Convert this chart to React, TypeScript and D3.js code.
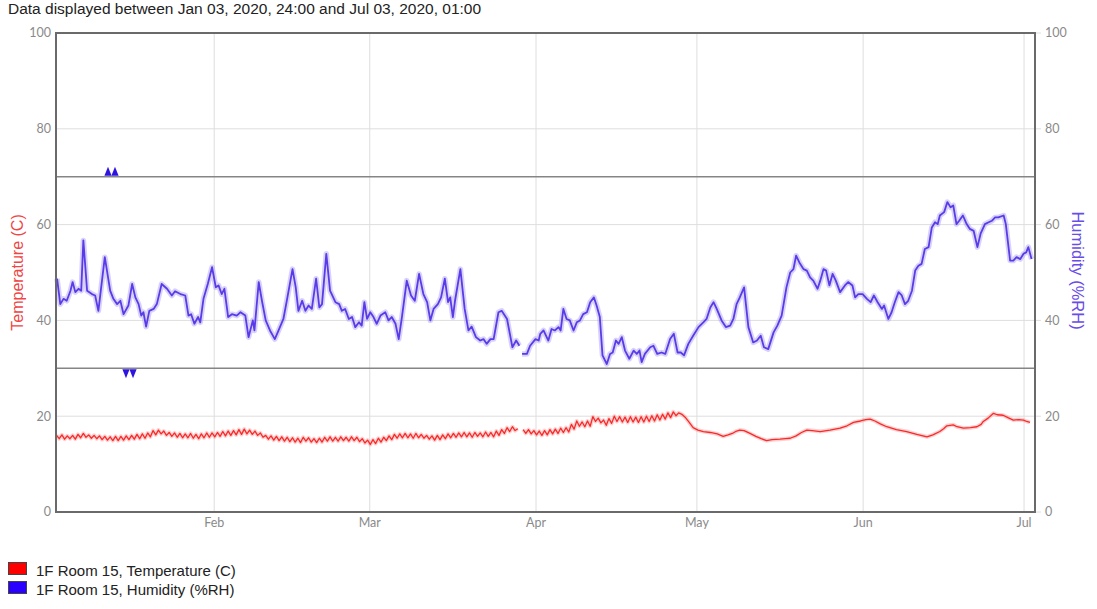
import React from 'react';
import * as d3 from 'd3';

const W = 1097;
const H = 609;
const M = { left: 56, right: 1035, top: 33, bottom: 512 };
const DAY = 864e5;
const BASE = Date.UTC(2020, 0, 1);
const toDate = (d: number) => new Date(BASE + d * DAY);

const titleText = 'Data displayed between Jan 03, 2020, 24:00 and Jul 03, 2020, 01:00';
const legendItems = ['1F Room 15, Temperature (C)', '1F Room 15, Humidity (%RH)'];
const yTicks = [0, 20, 40, 60, 80, 100];
const limitLines = [70, 30];
const alarmHighDays = [11.2, 12.5];
const alarmLowDays = [14.55, 15.86];

// temperature, 12-hourly readings from day 1.6 (days since Jan 1, 2020)
const tempHalfDailyStart = 1.6;
const temperatureHalfDaily: (number | null)[] = [
  16.0, 15.3, 16.1, 15.2, 15.9, 15.3, 16.0, 15.2, 16.2, 15.5,
  16.4, 15.6, 16.1, 15.4, 16.0, 15.3, 15.9, 15.1, 15.8, 15.0,
  15.7, 14.9, 15.8, 14.9, 15.8, 15.0, 15.9, 15.1, 16.0, 15.2,
  16.2, 15.3, 16.3, 15.4, 16.5, 15.7, 17.0, 16.1, 17.1, 16.3,
  16.9, 16.0, 16.6, 15.8, 16.5, 15.6, 16.4, 15.5, 16.3, 15.5,
  16.4, 15.4, 16.2, 15.3, 16.3, 15.5, 16.5, 15.6, 16.5, 15.7,
  16.6, 15.8, 16.8, 15.9, 16.9, 16.0, 17.0, 16.1, 17.2, 16.2,
  17.3, 16.3, 17.1, 16.2, 16.9, 16.0, 16.5, 15.6, 16.0, 15.2,
  15.9, 15.0, 15.8, 14.9, 15.7, 14.8, 15.6, 14.7, 15.5, 14.6,
  15.4, 14.5, 15.6, 14.8, 15.5, 14.6, 15.3, 14.5, 15.4, 14.6,
  15.6, 14.8, 15.7, 14.8, 15.6, 14.8, 15.7, 14.9, 15.6, 14.8,
  15.7, 14.9, 15.6, 14.7, 15.3, 14.4, 15.0, 14.1, 15.1, 14.3,
  15.4, 14.6, 15.6, 14.9, 15.9, 15.1, 16.2, 15.4, 16.3, 15.5,
  16.4, 15.5, 16.3, 15.4, 16.4, 15.5, 16.2, 15.4, 16.0, 15.2,
  15.9, 15.0, 16.0, 15.1, 16.1, 15.3, 16.3, 15.5, 16.4, 15.6,
  16.5, 15.7, 16.6, 15.7, 16.5, 15.6, 16.6, 15.8, 16.5, 15.7,
  16.7, 15.8, 16.6, 15.7, 16.9, 16.0, 17.2, 16.4, 17.6, 16.8,
  17.8, 17.0, 17.4, null,
  17.2, 16.4, 17.2, 16.3, 17.0, 16.1,
  16.9, 16.0, 17.0, 16.1, 17.2, 16.3, 17.3, 16.4, 17.5, 16.6,
  17.6, 16.7, 18.3, 17.3, 19.0, 17.9, 18.8, 17.8, 19.0, 17.9,
  19.9, 18.9, 19.6, 18.6, 19.2, 18.1, 19.5, 18.5, 20.0, 18.9,
  19.9, 18.8, 19.8, 18.7, 19.9, 18.8, 19.8, 18.7, 19.9, 18.8,
  20.0, 18.9, 20.1, 19.0, 20.3, 19.2, 20.4, 19.4, 20.7, 19.7,
  20.9, 20.1, 20.7,
];

// temperature after late April: [day, value]
const temperatureLate: [number, number][] = [
  [118.2, 20.4], [118.8, 19.8], [119.5, 18.8], [120.3, 17.6], [121.2, 17.1],
  [122.2, 16.8], [123.5, 16.6], [124.8, 16.3], [125.9, 15.8], [126.8, 16.1],
  [127.6, 16.4], [128.4, 16.9], [129.0, 17.1], [129.8, 17.0], [130.9, 16.4],
  [132.0, 15.8], [133.0, 15.3], [134.0, 14.9], [135.0, 15.1], [136.5, 15.2],
  [137.5, 15.3], [138.4, 15.4], [139.5, 15.9], [140.5, 16.6], [141.5, 17.1],
  [142.5, 17.0], [144.0, 16.8], [145.8, 17.1], [147.7, 17.5], [149.0, 18.0],
  [150.2, 18.7], [151.5, 19.0], [152.5, 19.3], [153.3, 19.4], [154.2, 19.0],
  [155.2, 18.4], [156.4, 17.8], [158.2, 17.2], [160.1, 16.8], [162.0, 16.2],
  [163.9, 15.7], [165.0, 16.1], [166.3, 16.8], [167.0, 17.4], [167.6, 18.0],
  [168.8, 18.2], [169.5, 17.8], [170.7, 17.5], [172.0, 17.6], [173.2, 17.8],
  [174.0, 18.3], [174.4, 18.9], [175.3, 19.6], [176.3, 20.6], [177.0, 20.3],
  [178.1, 20.2], [179.0, 19.7], [180.0, 19.2], [181.0, 19.3], [181.9, 19.2],
  [182.5, 18.9], [183.1, 18.7],
];

// humidity: [day, value]
const humidityReadings: [number, number | null][] = [
  [1.7, 48.7], [2.3, 43.4], [2.9, 44.5], [3.5, 44.1], [4.2, 46.2], [4.6, 48.0],
  [5.1, 45.9], [5.7, 46.6], [6.2, 46.2], [6.6, 56.7], [7.3, 46.2], [8.2, 45.5],
  [8.8, 45.2], [9.4, 42.0], [10.6, 53.2], [11.6, 46.2], [12.2, 44.5], [12.9, 43.4],
  [13.5, 44.1], [14.1, 41.3], [15.0, 43.1], [15.7, 47.6], [16.3, 44.8], [16.9, 43.4],
  [17.4, 41.0], [17.8, 41.7], [18.3, 38.7], [18.9, 42.0], [19.7, 42.4], [20.3, 43.4],
  [21.2, 47.6], [22.2, 46.6], [23.1, 45.2], [23.7, 46.1], [24.7, 45.5], [25.6, 45.2],
  [26.2, 41.0], [26.7, 41.3], [27.3, 39.3], [28.0, 40.7], [28.4, 39.6], [29.0, 44.5],
  [29.8, 47.6], [30.6, 51.1], [31.3, 46.9], [31.8, 47.3], [32.4, 45.5], [32.9, 46.6],
  [33.6, 40.7], [34.3, 41.3], [35.2, 41.0], [35.9, 41.7], [36.8, 41.0], [37.4, 36.5],
  [38.2, 40.0], [38.5, 37.9], [39.3, 48.0], [39.9, 44.1], [40.6, 40.0], [41.4, 37.9],
  [42.3, 36.1], [43.0, 37.9], [43.9, 40.3], [44.6, 44.5], [45.6, 50.7], [46.2, 46.9],
  [46.7, 42.0], [47.4, 44.1], [48.0, 42.0], [48.6, 43.1], [49.2, 42.4], [50.0, 48.7],
  [50.6, 42.7], [51.1, 43.4], [51.9, 53.9], [52.6, 46.2], [53.6, 43.8], [54.3, 43.4],
  [54.8, 42.0], [55.4, 42.4], [56.1, 40.3], [56.7, 40.7], [57.3, 38.6], [58.0, 39.6],
  [58.5, 38.9], [59.0, 43.8], [59.5, 40.3], [60.1, 41.7], [60.7, 40.7], [61.3, 39.3],
  [62.0, 41.0], [62.9, 41.7], [63.5, 40.0], [64.1, 40.7], [64.8, 39.3], [65.4, 36.1],
  [66.0, 40.7], [66.9, 48.3], [67.7, 45.2], [68.4, 44.1], [69.2, 49.7], [70.0, 45.5],
  [70.7, 43.8], [71.3, 40.0], [71.9, 42.4], [72.7, 43.4], [73.3, 44.8], [74.0, 48.7],
  [74.6, 43.8], [75.0, 44.8], [75.5, 40.7], [75.9, 44.1], [76.9, 50.7], [77.7, 42.4],
  [78.4, 37.9], [79.0, 38.7], [79.8, 36.5], [80.6, 35.8], [81.2, 36.1], [81.8, 35.1],
  [82.5, 36.1], [83.1, 36.1], [84.0, 41.7], [84.6, 42.0], [85.6, 40.3], [86.6, 34.4],
  [87.3, 35.8], [87.9, 34.7], [88.1, null], [88.4, 33.0], [89.3, 33.0], [89.9, 34.7],
  [90.9, 36.1], [91.5, 35.8], [91.8, 37.2], [92.4, 37.9], [93.3, 35.8], [93.9, 38.2],
  [94.5, 37.9], [95.2, 38.6], [95.6, 37.9], [96.1, 42.4], [96.7, 40.3], [97.3, 40.0],
  [98.0, 37.9], [98.6, 39.6], [99.2, 40.0], [99.8, 41.3], [100.5, 41.7], [101.1, 43.8],
  [101.8, 44.8], [102.3, 43.1], [102.9, 40.7], [103.4, 32.7], [104.2, 30.9], [104.8, 33.0],
  [105.3, 33.3], [105.9, 35.8], [106.4, 35.1], [107.0, 36.5], [107.6, 33.7], [108.4, 32.0],
  [109.2, 33.7], [109.8, 33.0], [110.3, 33.7], [110.7, 31.3], [111.3, 33.0], [112.3, 34.4],
  [112.9, 34.7], [113.6, 33.0], [114.4, 33.3], [115.1, 33.0], [116.0, 36.1], [116.7, 37.2],
  [117.4, 33.3], [118.0, 33.3], [118.6, 32.7], [119.4, 35.1], [120.3, 36.8], [121.3, 38.6],
  [122.2, 39.6], [122.8, 40.3], [123.5, 42.7], [124.1, 43.8], [124.7, 42.4], [125.6, 40.0],
  [126.4, 38.6], [127.2, 38.9], [127.8, 40.3], [128.4, 43.4], [129.0, 44.8], [129.8, 46.9],
  [130.6, 38.6], [131.5, 35.4], [132.2, 35.8], [132.9, 36.8], [133.5, 34.4], [134.3, 34.0],
  [135.3, 37.5], [136.0, 38.9], [136.8, 41.0], [137.7, 46.9], [138.4, 50.0], [139.0, 50.7],
  [139.5, 53.5], [140.1, 52.1], [140.9, 50.7], [141.5, 50.4], [142.1, 49.0], [142.7, 48.3],
  [143.5, 46.6], [144.0, 48.3], [144.6, 50.7], [145.1, 50.4], [145.7, 47.3], [146.3, 49.7],
  [146.9, 48.3], [147.7, 45.9], [148.6, 47.3], [149.2, 48.0], [150.0, 47.3], [150.5, 44.8],
  [151.1, 45.5], [151.9, 45.5], [152.7, 44.5], [153.4, 43.8], [154.0, 45.2], [154.7, 43.8],
  [155.5, 42.4], [155.9, 43.1], [156.7, 40.3], [157.3, 41.7], [157.9, 43.8], [158.6, 45.9],
  [159.2, 45.2], [159.8, 43.4], [160.4, 44.1], [161.1, 46.2], [161.7, 50.4], [162.3, 51.4],
  [162.9, 51.8], [163.5, 54.9], [164.2, 55.3], [164.8, 59.4], [165.4, 60.5], [165.9, 60.1],
  [166.3, 61.9], [167.1, 62.6], [167.7, 64.7], [168.3, 63.6], [168.8, 64.0], [169.4, 60.1],
  [169.9, 60.8], [170.6, 61.9], [171.3, 60.1], [171.9, 59.1], [172.6, 58.7], [173.3, 55.3],
  [173.9, 58.1], [174.7, 60.1], [175.4, 60.5], [176.0, 60.8], [176.6, 61.5], [177.2, 61.5],
  [178.2, 61.9], [178.6, 60.1], [179.4, 52.5], [180.0, 52.5], [180.6, 53.2], [181.3, 52.8],
  [181.9, 53.9], [182.4, 54.2], [182.8, 55.3], [183.4, 52.8],
];

const TEMP_COLOR = '#f52b2b';
const HUM_COLOR = '#5a3be8';
const TICK_FONT = 'Lato, "Open Sans", sans-serif';
const TEXT_FONT = '"Liberation Sans", Arial, Helvetica, sans-serif';

type Pt = { t: Date; v: number | null };

export default function App() {
  const x = d3
    .scaleUtc()
    .domain([toDate(1.5), new Date(Date.UTC(2020, 6, 3, 1))])
    .range([M.left, M.right]);
  const y = d3.scaleLinear().domain([0, 100]).range([M.bottom, M.top]);
  const months = d3.utcMonth.range(new Date(Date.UTC(2020, 1, 1)), new Date(Date.UTC(2020, 6, 2)));
  const fmt = d3.utcFormat('%b');

  const tempPts: Pt[] = [
    ...temperatureHalfDaily.map((v, i) => ({ t: toDate(tempHalfDailyStart + i * 0.5), v })),
    ...temperatureLate.map(([d, v]) => ({ t: toDate(d), v })),
  ];
  const humPts: Pt[] = humidityReadings.map(([d, v]) => ({ t: toDate(d), v }));

  const line = d3
    .line<Pt>()
    .defined((p) => p.v != null)
    .x((p) => x(p.t))
    .y((p) => y(p.v as number));

  const tempPath = line(tempPts) || '';
  const humPath = line(humPts) || '';

  const triUp = (d: number, lim: number) => {
    const cx = x(toDate(d));
    const by = y(lim) - 1;
    return `M${cx - 3.6},${by}L${cx + 3.6},${by}L${cx},${by - 9}Z`;
  };
  const triDown = (d: number, lim: number) => {
    const cx = x(toDate(d));
    const by = y(lim) + 1;
    return `M${cx - 3.6},${by}L${cx + 3.6},${by}L${cx},${by + 9}Z`;
  };

  const midY = (M.top + M.bottom) / 2;

  return (
    <svg
      width={W}
      height={H}
      style={{ position: 'absolute', left: 0, top: 0, background: '#fff' }}
    >
      <text x={8} y={13.5} fontFamily={TEXT_FONT} fontSize={15.5} fill="#222">
        {titleText}
      </text>

      {/* grid */}
      {yTicks.map((t) => (
        <line key={'gy' + t} x1={M.left} x2={M.right + 6} y1={y(t)} y2={y(t)} stroke="#dedede" strokeWidth={1} />
      ))}
      {months.map((m) => (
        <line key={'gx' + m.getTime()} x1={x(m)} x2={x(m)} y1={M.top} y2={M.bottom} stroke="#dedede" strokeWidth={1} />
      ))}

      {/* limit lines */}
      {limitLines.map((l) => (
        <line key={'lim' + l} x1={M.left} x2={M.right} y1={y(l)} y2={y(l)} stroke="#858585" strokeWidth={1.5} />
      ))}

      {/* halos */}
      <path d={humPath} fill="none" stroke="#9d8cf2" strokeOpacity={0.4} strokeWidth={5.5} strokeLinejoin="round" />
      <path d={tempPath} fill="none" stroke="#ff8a8a" strokeOpacity={0.4} strokeWidth={4} strokeLinejoin="round" />

      {/* lines */}
      <path d={tempPath} fill="none" stroke={TEMP_COLOR} strokeWidth={1.3} strokeLinejoin="round" />
      <path d={humPath} fill="none" stroke={HUM_COLOR} strokeWidth={1.8} strokeLinejoin="round" />

      {/* alarm markers */}
      {alarmHighDays.map((d) => (
        <path key={'ah' + d} d={triUp(d, limitLines[0])} fill="#2d14e0" />
      ))}
      {alarmLowDays.map((d) => (
        <path key={'al' + d} d={triDown(d, limitLines[1])} fill="#2d14e0" />
      ))}

      {/* frame */}
      <rect
        x={M.left}
        y={M.top}
        width={M.right - M.left}
        height={M.bottom - M.top}
        fill="none"
        stroke="#6a6a6a"
        strokeWidth={2}
      />

      {/* y tick labels */}
      {yTicks.map((t) => (
        <text key={'ly' + t} x={51} y={y(t)} dy="0.35em" textAnchor="end" fontFamily={TICK_FONT} fontSize={12.5} fill="#8a8a8a">
          {t}
        </text>
      ))}
      {yTicks.map((t) => (
        <text key={'ry' + t} x={1045} y={y(t)} dy="0.35em" textAnchor="start" fontFamily={TICK_FONT} fontSize={12.5} fill="#8a8a8a">
          {t}
        </text>
      ))}
      {months.map((m) => (
        <text key={'lx' + m.getTime()} x={x(m)} y={527} textAnchor="middle" fontFamily={TICK_FONT} fontSize={12.5} fill="#8a8a8a">
          {fmt(m)}
        </text>
      ))}

      {/* axis titles */}
      <text
        transform={`translate(17,${midY}) rotate(-90)`}
        textAnchor="middle"
        dominantBaseline="central"
        fontFamily={TEXT_FONT}
        fontSize={16}
        fill="#ef4545"
      >
        Temperature (C)
      </text>
      <text
        transform={`translate(1078,${midY - 2}) rotate(90)`}
        textAnchor="middle"
        dominantBaseline="central"
        fontFamily={TEXT_FONT}
        fontSize={16.5}
        fill="#6a4ce8"
      >
        Humidity (%RH)
      </text>

      {/* legend */}
      {legendItems.map((label, i) => (
        <g key={label} transform={`translate(0,${i * 19})`}>
          <rect x={8.5} y={562.5} width={18} height={12} fill={i === 0 ? '#ff0000' : '#2a00ff'} stroke="#444" strokeWidth={1} />
          <text x={36} y={576} fontFamily={TEXT_FONT} fontSize={15} fill="#222">
            {label}
          </text>
        </g>
      ))}
    </svg>
  );
}
